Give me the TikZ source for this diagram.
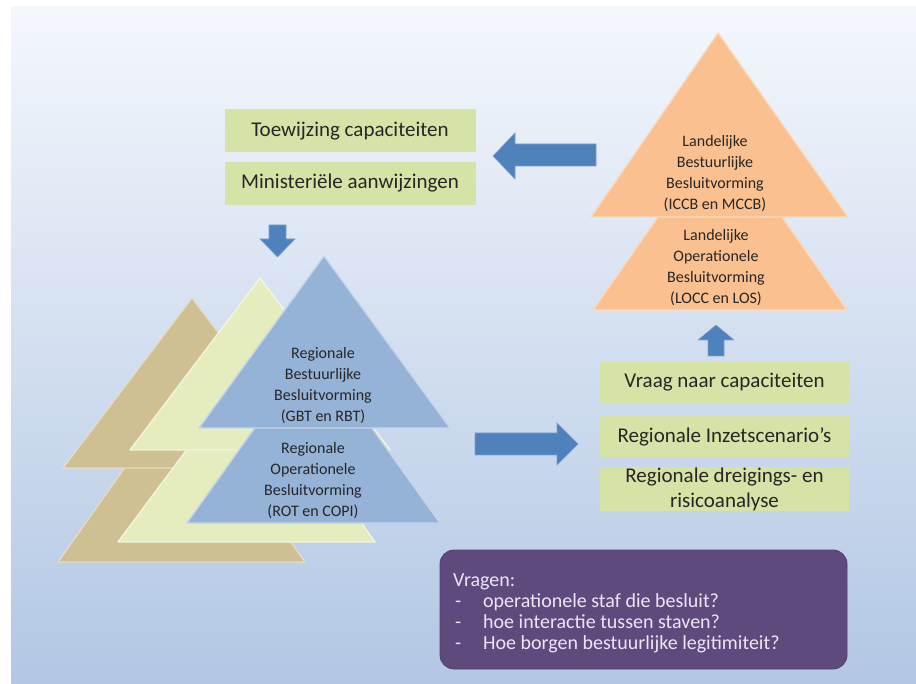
\documentclass[tikz,border=0pt]{standalone}
\usepackage{fontspec}
\setmainfont{Carlito}
\definecolor{bgtop}{RGB}{244,247,252}
\definecolor{bgbot}{RGB}{178,199,228}
\definecolor{boxgreen}{RGB}{214,227,166}
\definecolor{arrowblue}{RGB}{79,129,189}
\definecolor{triblue}{RGB}{149,178,215}
\definecolor{triorange}{RGB}{250,192,144}
\definecolor{triyellow}{RGB}{229,236,190}
\definecolor{tritan}{RGB}{206,192,146}
\definecolor{purplebox}{RGB}{95,74,126}
\definecolor{purpletext}{RGB}{236,230,246}
\begin{document}
\begin{tikzpicture}[x=1pt,y=-1pt,
  greenbox/.style={fill=boxgreen, inner sep=0pt, text=black!85, font=\fontsize{21}{25}\selectfont, align=center},
  tritext/.style={font=\fontsize{16}{21}\selectfont, align=center, text=black!85, inner sep=0pt},
  qtext/.style={font=\fontsize{20}{21}\selectfont, text=purpletext, anchor=base west, inner sep=0pt},
  blockarrow/.style={fill=arrowblue, draw=arrowblue!75!white, line width=0.6pt, line join=miter},
  trishape/.style={line join=round, line width=1.4pt}]
\useasboundingbox (0pt,0pt) rectangle (916pt,-684pt);
\fill[white] (0pt,0pt) rectangle (916pt,-684pt);
\shade[top color=bgtop, bottom color=bgbot] (11pt,-7pt) rectangle (916pt,-684pt);

% back (tan) pyramid
\filldraw[trishape, fill=tritan, draw=tritan!55!white] (181,388) -- (305,562) -- (58,562) -- cycle;
\filldraw[trishape, fill=tritan, draw=tritan!55!white] (192,298) -- (321,468) -- (63,468) -- cycle;
% middle (yellow) pyramid
\filldraw[trishape, fill=triyellow, draw=triyellow!50!white] (249,366) -- (375,542) -- (118,542) -- cycle;
\filldraw[trishape, fill=triyellow, draw=triyellow!50!white] (260,278) -- (390,450) -- (130,450) -- cycle;
% front (blue) pyramid
\filldraw[trishape, fill=triblue, draw=triblue!55!white] (313,346) -- (440,523) -- (187,523) -- cycle;
\filldraw[trishape, fill=triblue, draw=triblue!55!white] (324,256) -- (450,428) -- (199,428) -- cycle;
% orange pyramid
\filldraw[trishape, fill=triorange, draw=triorange!60!white] (720,128) -- (847,310) -- (593,310) -- cycle;
\filldraw[trishape, fill=triorange, draw=triorange!60!white] (718,33) -- (848,217) -- (591,217) -- cycle;

\node[tritext] (oru) at (715,174) {Landelijke\\Bestuurlijke\\Besluitvorming\\(ICCB en MCCB)};
\node[tritext] (orl) at (716,268) {Landelijke\\Operationele\\Besluitvorming\\(LOCC en LOS)};
\node[tritext] (blu) at (323,386) {Regionale\\Bestuurlijke\\Besluitvorming\\(GBT en RBT)};
\node[tritext] (bll) at (313,481) {Regionale\\Operationele\\Besluitvorming\\(ROT en COPI)};

% green boxes
\node[greenbox, minimum width=251pt, minimum height=43pt] (toe) at (350,131) {Toewijzing capaciteiten};
\node[greenbox, minimum width=251pt, minimum height=43pt] (min) at (350,183.5) {Ministeriële aanwijzingen};
\node[greenbox, minimum width=249pt, minimum height=41pt] (vra) at (724.5,382.5) {Vraag naar capaciteiten};
\node[greenbox, minimum width=249pt, minimum height=41pt] (inz) at (724.5,436.5) {Regionale Inzetscenario’s};
\node[greenbox, minimum width=249pt, minimum height=43pt] (dre) at (724.5,489) {Regionale dreigings- en\\risicoanalyse};

% block arrows
\filldraw[blockarrow] (596,144) -- (515,144) -- (515,133) -- (493,156) -- (515,179) -- (515,166) -- (596,166) -- cycle;
\filldraw[blockarrow] (269,225) -- (286,225) -- (286,239) -- (295,239) -- (277.5,257) -- (260,239) -- (269,239) -- cycle;
\filldraw[blockarrow] (708,356) -- (708,340) -- (698,340) -- (716,325) -- (734,340) -- (724,340) -- (724,356) -- cycle;
\filldraw[blockarrow] (475,433) -- (557,433) -- (557,423) -- (578,444) -- (557,465) -- (557,455) -- (475,455) -- cycle;

% questions box
\node[fill=purplebox, draw=purplebox!85!black, line width=0.8pt, rounded corners=14pt, minimum width=407pt, minimum height=119pt, inner sep=0pt] (qbox) at (643.5,609.5) {};
\node[qtext] (q0) at (453,586) {Vragen:};
\node[qtext] (q1d) at (455,607) {-};
\node[qtext] (q1) at (483,607) {operationele staf die besluit?};
\node[qtext] (q2d) at (455,628) {-};
\node[qtext] (q2) at (483,628) {hoe interactie tussen staven?};
\node[qtext] (q3d) at (455,649) {-};
\node[qtext] (q3) at (483,649) {Hoe borgen bestuurlijke legitimiteit?};
\end{tikzpicture}
\end{document}
